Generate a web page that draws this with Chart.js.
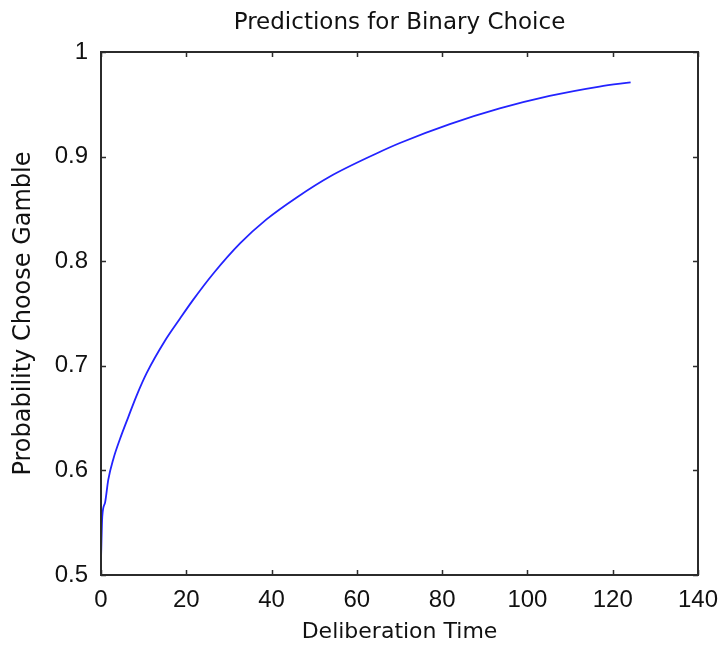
<!DOCTYPE html>
<html>
<head>
<meta charset="utf-8">
<title>Predictions for Binary Choice</title>
<script src="https://cdn.jsdelivr.net/npm/chart.js@4.4.1/dist/chart.umd.min.js"></script>
<style>
  body { margin: 0; background: #fff; }
  canvas { display: block; }
</style>
</head>
<body>
<canvas id="predChart" width="721" height="645"></canvas>
<script>
// values (deliberation time -> probability)
const times = [0, 0.3, 0.94, 1.7, 2.9, 4.45, 6.4, 8.4, 10.7, 15, 18.5, 21.6, 26.3, 32.6, 38.8, 45.9, 53.7, 64.6, 70.1, 81.8, 93.5, 105.2, 116.9, 124.2];
const probs = [0.515, 0.556, 0.569, 0.591, 0.611, 0.630, 0.651, 0.672, 0.693, 0.724, 0.745, 0.763, 0.788, 0.817, 0.840, 0.861, 0.881, 0.903, 0.913, 0.931, 0.946, 0.958, 0.967, 0.971];

const xTicks = [0, 20, 40, 60, 80, 100, 120, 140];
const yTicks = [0.5, 0.6, 0.7, 0.8, 0.9, 1];

const TICK_FONT = "'Liberation Sans', Arial, sans-serif";
const LABEL_FONT = "'DejaVu Sans', 'Liberation Sans', sans-serif";
const AXIS_COLOR = "#2b2b2b";

// box round the plot + inward tick marks, matlab style
const matlabAxes = {
  id: "matlabAxes",
  afterDatasetsDraw(chart) {
    const { ctx, chartArea: a, scales } = chart;
    const len = 5;
    ctx.save();
    ctx.strokeStyle = AXIS_COLOR;
    ctx.lineWidth = 1.5;
    ctx.beginPath();
    scales.x.ticks.forEach((t) => {
      const px = Math.round(scales.x.getPixelForValue(t.value)) + 0.5;
      ctx.moveTo(px, a.bottom);
      ctx.lineTo(px, a.bottom - len);
      ctx.moveTo(px, a.top);
      ctx.lineTo(px, a.top + len);
    });
    scales.y.ticks.forEach((t) => {
      const py = Math.round(scales.y.getPixelForValue(t.value)) + 0.5;
      ctx.moveTo(a.left, py);
      ctx.lineTo(a.left + len, py);
      ctx.moveTo(a.right, py);
      ctx.lineTo(a.right - len, py);
    });
    ctx.stroke();
    ctx.lineWidth = 2;
    ctx.strokeRect(a.left, a.top, a.right - a.left, a.bottom - a.top);
    ctx.restore();
  },
};

const ctx = document.getElementById("predChart").getContext("2d");

new Chart(ctx, {
  type: "line",
  data: {
    datasets: [
      {
        data: times.map((t, i) => ({ x: t, y: probs[i] })),
        borderColor: "#2323ff",
        borderWidth: 1.8,
        pointRadius: 0,
        cubicInterpolationMode: "monotone",
        fill: false,
      },
    ],
  },
  options: {
    responsive: false,
    animation: false,
    layout: { padding: { right: 23 } },
    plugins: {
      legend: { display: false },
      tooltip: { enabled: false },
      title: {
        display: true,
        fullSize: false, // centre over the plot, not the canvas
        text: "Predictions for Binary Choice",
        color: "#111",
        font: { family: LABEL_FONT, size: 23, weight: "normal" },
        padding: { top: 9, bottom: 15.4 },
      },
    },
    scales: {
      x: {
        type: "linear",
        min: 0,
        max: 140,
        afterBuildTicks: (scale) => {
          scale.ticks = xTicks.map((v) => ({ value: v }));
        },
        afterFit: (scale) => {
          scale.height = 70;
          scale.paddingLeft = 0;
          scale.paddingRight = 0;
        },
        grid: { display: false, drawTicks: false },
        border: { display: false },
        ticks: {
          color: "#111",
          padding: 11,
          font: { family: TICK_FONT, size: 24 },
          maxRotation: 0,
        },
        title: {
          display: true,
          text: "Deliberation Time",
          color: "#111",
          font: { family: LABEL_FONT, size: 22 },
          padding: 0,
        },
      },
      y: {
        min: 0.5,
        max: 1,
        afterBuildTicks: (scale) => {
          scale.ticks = yTicks.map((v) => ({ value: v }));
        },
        afterFit: (scale) => {
          scale.width = 101;
          scale.paddingTop = 0;
          scale.paddingBottom = 0;
        },
        grid: { display: false, drawTicks: false },
        border: { display: false },
        ticks: {
          color: "#111",
          padding: 13,
          font: { family: TICK_FONT, size: 24 },
          callback: (v) => (v === 1 ? "1" : v.toFixed(1)),
        },
        title: {
          display: true,
          text: "Probability Choose Gamble",
          color: "#111",
          font: { family: LABEL_FONT, size: 24 },
          padding: { top: 9, bottom: 0 },
        },
      },
    },
  },
  plugins: [matlabAxes],
});
</script>
</body>
</html>
